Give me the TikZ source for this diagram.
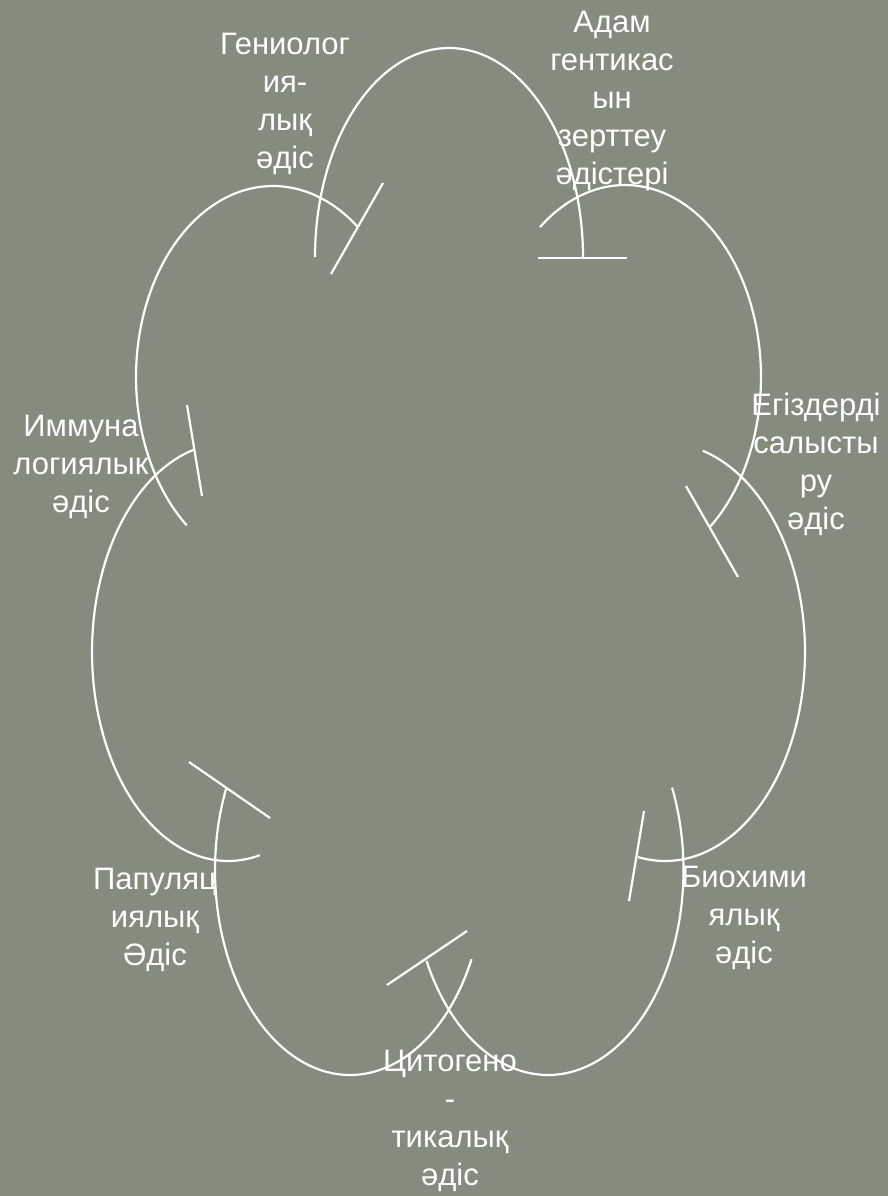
\documentclass[tikz,border=0pt]{standalone}
\usepackage{fontspec}
\setmainfont{Liberation Sans}
\definecolor{bgcol}{HTML}{868B7F}
\begin{document}
\begin{tikzpicture}[x=1pt,y=-1pt,
  arcline/.style={white,line width=2.2pt},
  teebar/.style={white,line width=2.2pt},
  lbl/.style={text=white,align=center,anchor=north,inner sep=0pt,
    font=\fontsize{31}{38}\selectfont}]
\fill[bgcol] (0,0) rectangle (888,1196);
\useasboundingbox (0,0) rectangle (888,1196);

% arcs (ellipse parts, pixel coords, y down)
\draw[arcline] plot[domain=180:0,samples=90] ({449+134*cos(\x)},{257-209*sin(\x)});
\draw[arcline] plot[domain=128.7:-51.2,samples=90] ({625+136*cos(\x)},{377-192*sin(\x)});
\draw[arcline] plot[domain=74.3:-101.1,samples=90] ({665+140*cos(\x)},{652-209*sin(\x)});
\draw[arcline] plot[domain=23.7:-153.7,samples=90] ({548+135.5*cos(\x)},{870-205*sin(\x)});
\draw[arcline] plot[domain=156.7:334.2,samples=90] ({350+135*cos(\x)},{870-205*sin(\x)});
\draw[arcline] plot[domain=104.8:283.5,samples=90] ({228+136*cos(\x)},{652-209*sin(\x)});
\draw[arcline] plot[domain=230.9:51.8,samples=90] ({273+137*cos(\x)},{377-191*sin(\x)});

% tee bars at arc ends
\coordinate (t1a) at (538,258); \coordinate (t1b) at (627,258);
\coordinate (t2a) at (686,486); \coordinate (t2b) at (738,577);
\coordinate (t3a) at (644,811); \coordinate (t3b) at (629,901);
\coordinate (t4a) at (387,985); \coordinate (t4b) at (467,931);
\coordinate (t5a) at (189,762); \coordinate (t5b) at (270,818);
\coordinate (t6a) at (187,405); \coordinate (t6b) at (202,496);
\coordinate (t7a) at (331,274); \coordinate (t7b) at (383,183);
\draw[teebar] (t1a) -- (t1b);
\draw[teebar] (t2a) -- (t2b);
\draw[teebar] (t3a) -- (t3b);
\draw[teebar] (t4a) -- (t4b);
\draw[teebar] (t5a) -- (t5b);
\draw[teebar] (t6a) -- (t6b);
\draw[teebar] (t7a) -- (t7b);

% labels
\node[lbl] (gen) at (285,33) {Гениолог\\ия-\\лық\\әдіс};
\node[lbl] (adam) at (612,11) {Адам\\гентикас\\ын\\зерттеу\\әдістері};
\node[lbl] (imm) at (81,415) {Иммуна\\логиялык\\әдіс};
\node[lbl] (egiz) at (816,393) {Егіздерді\\салысты\\ру\\әдіс};
\node[lbl] (bio) at (744,866) {Биохими\\ялық\\әдіс};
\node[lbl] (pap) at (155,868) {Папуляц\\иялық\\Әдіс};
\node[lbl] (cyt) at (450,1050) {Цитогено\\-\\тикалық\\әдіс};
\end{tikzpicture}
\end{document}
